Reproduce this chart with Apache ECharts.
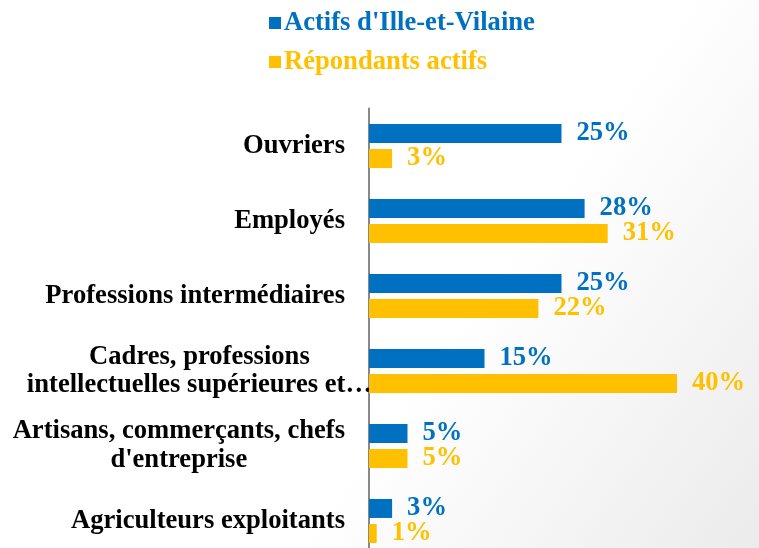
<!DOCTYPE html>
<html>
<head>
<meta charset="utf-8">
<script src="https://cdn.jsdelivr.net/npm/echarts@6/dist/echarts.min.js"></script>
<style>
    html, body { margin: 0; padding: 0; }
    #main { width: 759px; height: 548px; }
</style>
</head>
<body>
<div id="main"></div>
<script>
// 类目 (从上到下)
var categories = [
    'Ouvriers',
    'Employés',
    'Professions intermédiaires',
    'Cadres, professions\nintellectuelles supérieures et…',
    'Artisans, commerçants, chefs\nd\'entreprise',
    'Agriculteurs exploitants'
];
// 系列
var seriesNames = ['Actifs d\'Ille-et-Vilaine', 'Répondants actifs'];
var actifsIlle = [25, 28, 25, 15, 5, 3];
var repondants = [3, 31, 22, 40, 5, 1];
var colors = ['#0070C0', '#FFC000'];

var font = "'Liberation Serif', 'Times New Roman', serif";
var fs = 26.6;

var chart = echarts.init(document.getElementById('main'));

var option = {
    backgroundColor: {
        type: 'linear', x: 0, y: 0, x2: 1, y2: 1,
        colorStops: [
            { offset: 0, color: '#ffffff' },
            { offset: 0.6, color: '#ffffff' },
            { offset: 1, color: '#ebebeb' }
        ]
    },
    legend: {
        orient: 'vertical',
        left: 264,
        top: 3,
        itemWidth: 12,
        itemHeight: 12,
        itemGap: 9,
        icon: 'rect',
        textStyle: {
            fontFamily: font,
            fontSize: fs,
            fontWeight: 'bold',
            lineHeight: 30,
            padding: [0, 0, 0, -2]
        },
        formatter: function (name) {
            var i = seriesNames.indexOf(name);
            return '{s' + i + '|' + name + '}';
        },
        data: seriesNames
    },
    grid: {
        left: 369,
        right: 5,
        top: 108.5,
        height: 450,
        outerBoundsMode: 'none'
    },
    xAxis: {
        type: 'value',
        min: 0,
        max: 50,
        show: false
    },
    yAxis: {
        type: 'category',
        inverse: true,
        data: categories,
        axisLine: { lineStyle: { color: '#888888', width: 2 } },
        axisTick: { show: false },
        axisLabel: {
            margin: -3,
            color: '#000',
            fontFamily: font,
            fontSize: fs,
            fontWeight: 'bold',
            formatter: function (value) {
                var lines = value.split('\n');
                // 第四个标签比其他标签更靠右
                var key = value.indexOf('Cadres') === 0 ? 'c' : 'r';
                return lines.map(function (l) { return '{' + key + '|' + l + '}'; }).join('\n');
            },
            rich: {
                r: {
                    fontFamily: font, fontSize: fs, fontWeight: 'bold', color: '#000',
                    lineHeight: 29, align: 'center', padding: [0, 27, 0, 0]
                },
                c: {
                    fontFamily: font, fontSize: fs, fontWeight: 'bold', color: '#000',
                    lineHeight: 28, align: 'center'
                }
            }
        }
    },
    series: [
        {
            name: seriesNames[0],
            type: 'bar',
            data: actifsIlle,
            barWidth: 19,
            barGap: '32%',
            itemStyle: { color: colors[0] },
            label: {
                show: true,
                position: 'right',
                distance: 15,
                formatter: '{c}%',
                color: colors[0],
                fontFamily: font,
                fontSize: fs,
                fontWeight: 'bold'
            }
        },
        {
            name: seriesNames[1],
            type: 'bar',
            data: repondants,
            barWidth: 19,
            barGap: '32%',
            itemStyle: { color: colors[1] },
            label: {
                show: true,
                position: 'right',
                distance: 15,
                formatter: '{c}%',
                color: colors[1],
                fontFamily: font,
                fontSize: fs,
                fontWeight: 'bold'
            }
        }
    ]
};
// 图例文字颜色与系列一致
option.legend.textStyle.rich = {
    s0: { color: colors[0], fontFamily: font, fontSize: fs, fontWeight: 'bold' },
    s1: { color: colors[1], fontFamily: font, fontSize: fs, fontWeight: 'bold' }
};
chart.setOption(option);
</script>
</body>
</html>
